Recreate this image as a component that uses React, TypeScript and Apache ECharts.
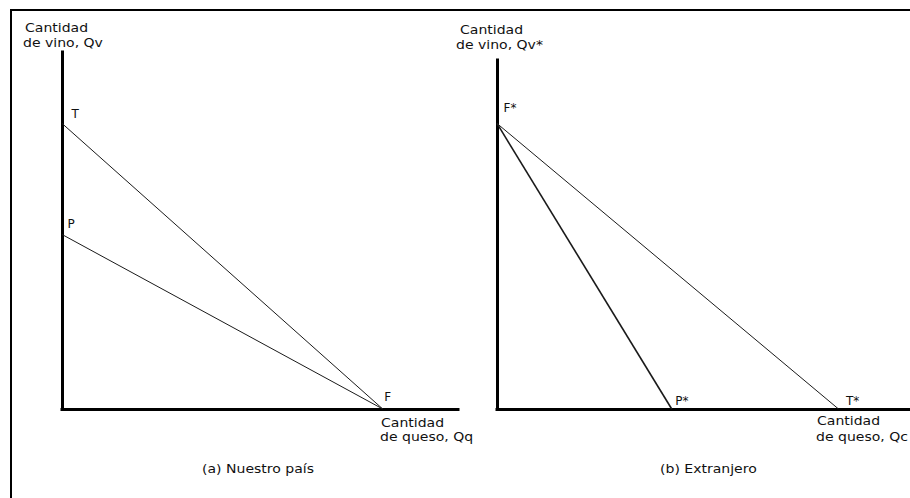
import React, { useEffect, useRef } from "react";
import * as echarts from "echarts";

// ---- data ----
const panelTitles = ["(a) Nuestro país", "(b) Extranjero"];
const yAxisNameLines = [["Cantidad", "de vino, Qv"], ["Cantidad", "de vino, Qv*"]];
const xAxisNameLines = [["Cantidad", "de queso, Qq"], ["Cantidad", "de queso, Qc"]];
const xAxisMax = [100, 104];
const yAxisMax = [90, 88];

// Nuestro país
const homeTradeLine = [[0, 72], [81, 0]]; // T -> F
const homeProdLine = [[0, 44], [81, 0]]; // P -> F
const homeLabels = { T: "T", P: "P", F: "F" };
// Extranjero
const foreignProdLine = [[0, 72], [44, 0]]; // F* -> P*
const foreignTradeLine = [[0, 72], [86, 0]]; // F* -> T*
const foreignLabels = { F: "F*", P: "P*", T: "T*" };

const FONT = '"DejaVu Sans", Verdana, sans-serif';
const SX = 1.17;

function pt(value: number[], text: string | null, off: number[]) {
  if (!text) return { value };
  return {
    value,
    label: {
      show: true,
      formatter: text,
      position: off,
      align: "left",
      verticalAlign: "middle",
      fontFamily: FONT,
      fontSize: 12,
      color: "#111",
    },
  };
}

function lineSeries(idx: number, data: any[], width: number) {
  return {
    type: "line",
    xAxisIndex: idx,
    yAxisIndex: idx,
    data,
    symbol: "circle",
    symbolSize: 1,
    showSymbol: true,
    itemStyle: { color: "rgba(0,0,0,0)" },
    lineStyle: { color: "#1a1a1a", width },
    silent: true,
  };
}

function txt(x: number, y: number, text: string) {
  return {
    type: "text",
    x,
    y,
    scaleX: SX,
    silent: true,
    style: {
      text,
      fontFamily: FONT,
      fontSize: 12,
      fill: "#111",
      align: "left",
      verticalAlign: "middle",
    },
  };
}

export default function App() {
  const ref = useRef<HTMLDivElement>(null);
  useEffect(() => {
    if (!ref.current) return;
    const chart = echarts.init(ref.current, undefined, { renderer: "svg" });
    const axisLine = { show: true, lineStyle: { color: "#000", width: 3, cap: "square" } };
    const hidden = {
      axisTick: { show: false },
      axisLabel: { show: false },
      splitLine: { show: false },
    };
    chart.setOption({
      animation: false,
      backgroundColor: "#fff",
      grid: [
        { left: 62, top: 52, width: 396, height: 357 },
        { left: 497, top: 60, right: 0, height: 349 },
      ],
      xAxis: [0, 1].map((i) => ({
        type: "value",
        gridIndex: i,
        min: 0,
        max: xAxisMax[i],
        axisLine,
        ...hidden,
      })),
      yAxis: [0, 1].map((i) => ({
        type: "value",
        gridIndex: i,
        min: 0,
        max: yAxisMax[i],
        axisLine,
        ...hidden,
      })),
      series: [
        lineSeries(0, [pt(homeTradeLine[0], homeLabels.T, [10, -8.5]), pt(homeTradeLine[1], homeLabels.F, [2, -11.5])], 1),
        lineSeries(0, [pt(homeProdLine[0], homeLabels.P, [6, -10]), pt(homeProdLine[1], null, [0, 0])], 1),
        lineSeries(1, [pt(foreignProdLine[0], foreignLabels.F, [7, -14.5]), pt(foreignProdLine[1], foreignLabels.P, [4, -8])], 1.6),
        lineSeries(1, [pt(foreignTradeLine[0], null, [0, 0]), pt(foreignTradeLine[1], foreignLabels.T, [8, -8])], 1),
      ],
      graphic: [
        {
          type: "polyline",
          silent: true,
          shape: { points: [[11, 498], [11, 10], [910, 10]] },
          style: { stroke: "#000", lineWidth: 2, fill: "none" },
        },
        txt(25, 27.5, yAxisNameLines[0][0]),
        txt(23, 43, yAxisNameLines[0][1]),
        txt(460, 30, yAxisNameLines[1][0]),
        txt(456, 45, yAxisNameLines[1][1]),
        txt(381, 422.5, xAxisNameLines[0][0]),
        txt(380, 437, xAxisNameLines[0][1]),
        txt(817, 421, xAxisNameLines[1][0]),
        txt(816, 437, xAxisNameLines[1][1]),
        txt(202, 469, panelTitles[0]),
        txt(660, 469, panelTitles[1]),
      ],
    });
    return () => chart.dispose();
  }, []);
  return (
    <div
      ref={ref}
      style={{ position: "absolute", left: 0, top: 0, width: 910, height: 498 }}
    />
  );
}
